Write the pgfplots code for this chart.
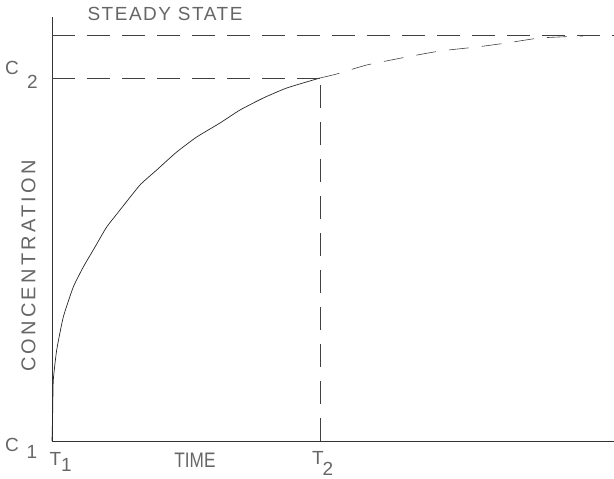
\documentclass[border=0pt]{standalone}
\usepackage{fontspec}
\setmainfont{Liberation Sans}
\usepackage{pgfplots}
\pgfplotsset{compat=1.18}
\newcommand{\fbig}{\fontsize{19}{19}\selectfont}
\newcommand{\fmid}{\fontsize{20}{20}\selectfont}
\newcommand{\ftime}{\fontsize{21}{21}\selectfont}
\begin{document}
\begin{tikzpicture}[x=1pt,y=1pt,
  lab/.style={text=black!60, inner sep=0pt}]
\useasboundingbox (0,0) rectangle (614,479);
\begin{axis}[
  at={(52pt,38pt)}, anchor=south west,
  scale only axis, width=562pt, height=424pt,
  xmin=0, xmax=562, ymin=0, ymax=424,
  axis x line*=bottom, axis y line*=left,
  axis line style={black!80, line width=0.8pt},
  xtick=\empty, ytick=\empty,
  clip=false,
]
% solid curve up to T2
\addplot[black!85, line width=0.7pt, smooth, tension=0.3] coordinates {
 (0,0) (0.7,30) (1.3,61) (4.7,91) (11.3,124) (21.3,154) (31.3,174) (43,194)
 (54.7,214) (68,231) (88,256) (104.7,271) (124.7,289) (144.7,304) (168,318)
 (188,331) (211.3,343) (234.7,353) (268,363)};
% dashed continuation
\addplot[black!75, line width=0.6pt, dash pattern=on 20pt off 13pt, smooth, tension=0.3] coordinates {
 (268,363) (284.7,367) (314.7,376) (354.7,384) (388,390) (424.7,394)
 (454.7,398) (488,403) (531,405)};
% steady state line
\addplot[black!75, line width=0.6pt, dash pattern=on 23pt off 12pt] coordinates {(0,406) (562,406)};
% C2 level
\addplot[black!75, line width=0.6pt, dash pattern=on 23pt off 12pt] coordinates {(0,363) (268,363)};
% T2 vertical
\addplot[black!75, line width=0.6pt, dash pattern=on 23pt off 14pt] coordinates {(268,0) (268,363)};

\node[lab] at (axis cs:113,427) {\fbig\addfontfeature{LetterSpace=8}STEADY STATE};
\node[lab] at (axis cs:-40,373.5) {\fbig C};
\node[lab] at (axis cs:-19.5,359.5) {\fbig 2};
\node[lab] at (axis cs:-40,-4) {\fbig C};
\node[lab] at (axis cs:-20,-11) {\fbig 1};
\node[lab] at (axis cs:3.5,-18) {\fbig T};
\node[lab] at (axis cs:14.5,-24) {\fbig 1};
\node[lab, xscale=0.82] at (axis cs:143,-19) {\ftime TIME};
\node[lab] at (axis cs:266,-17) {\fbig T};
\node[lab] at (axis cs:276,-28) {\fbig 2};
\node[lab, rotate=90] at (axis cs:-23.5,175) {\fmid\addfontfeature{LetterSpace=16}CONCENTRATION};
\end{axis}
\end{tikzpicture}
\end{document}
